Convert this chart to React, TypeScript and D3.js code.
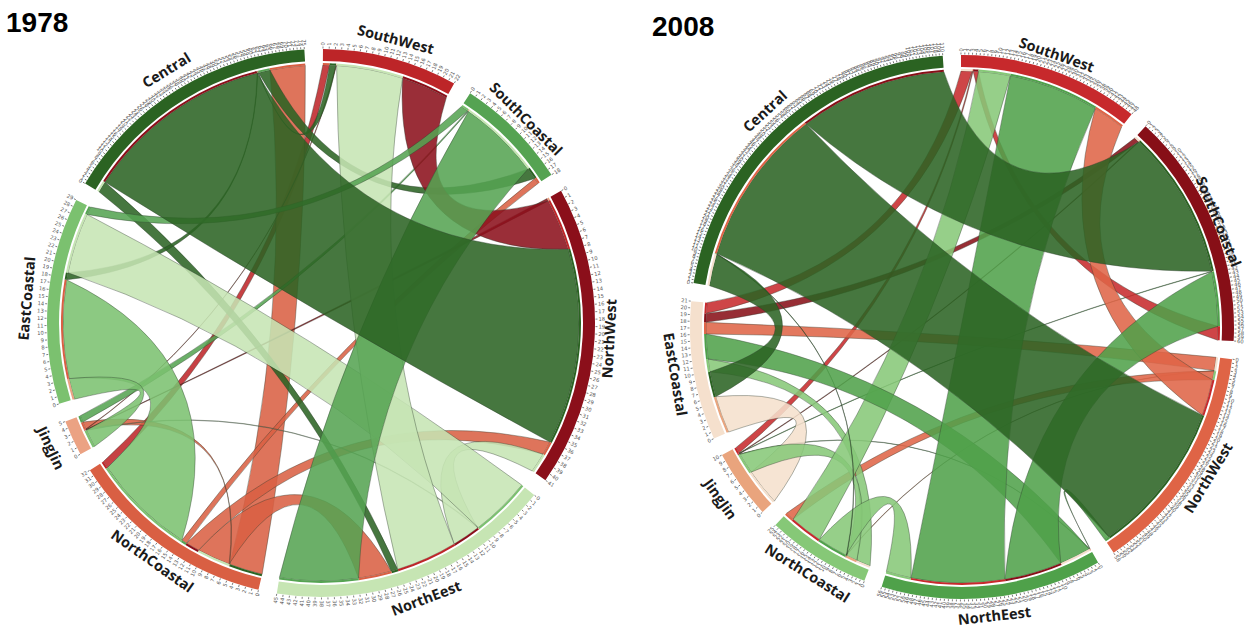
import React from "react";
import * as d3 from "d3";

type Segment = [string, number];
type Ribbon = [string, string, string];

const sectorOrder = ["Central", "SouthWest", "SouthCoastal", "NorthWest", "NorthEast", "NorthCoastal", "JingJin", "EastCoastal"];
const sectorLabels = ["Central", "SouthWest", "SouthCoastal", "NorthWest", "NorthEest", "NorthCoastal", "JingJin", "EastCoastal"];

// ---- 1978: ordered flows around each region
const flows1978: Record<string, Segment[]> = {
  Central: [["NorthEast", 2.5], ["NorthWest", 42.4], ["EastCoastal", 0.15], ["SouthWest", 0.15], ["SouthCoastal", 2.6], ["NorthCoastal", 7.9]],
  SouthWest: [["NorthCoastal", 1.5], ["Central", 1.4], ["JingJin", 0.15], ["NorthEast", 14.9], ["NorthWest", 10.6]],
  SouthCoastal: [["EastCoastal", 1.7], ["JingJin", 0.2], ["NorthEast", 18.4], ["Central", 2.6], ["NorthCoastal", 1.3]],
  NorthWest: [["JingJin", 0.6], ["SouthWest", 11.6], ["Central", 43.9], ["NorthCoastal", 3.1], ["NorthEast", 4.4]],
  NorthEast: [["EastCoastal", 13.5], ["JingJin", 0.15], ["NorthWest", 6.3], ["SouthWest", 13.7], ["Central", 1.5], ["NorthCoastal", 7.4], ["SouthCoastal", 17.6]],
  NorthCoastal: [["Central", 7.5], ["JingJin", 0.15], ["NorthEast", 7.4], ["NorthWest", 3.1], ["SouthCoastal", 1.2], ["EastCoastal", 23.2], ["SouthWest", 1.6]],
  JingJin: [["EastCoastal", 4.0], ["NorthEast", 0.1], ["NorthWest", 0.1], ["SouthWest", 0.1], ["NorthCoastal", 1.7], ["SouthCoastal", 1.5]],
  EastCoastal: [["JingJin", 4.7], ["NorthCoastal", 22], ["Central", 1.6], ["NorthEast", 13.6], ["SouthCoastal", 1.8]],
};
const ribbons1978: Ribbon[] = [
  ["SouthWest", "NorthCoastal", "SouthWest"],
  ["NorthCoastal", "Central", "NorthCoastal"],
  ["NorthCoastal", "NorthWest", "NorthCoastal"],
  ["NorthCoastal", "NorthEast", "NorthCoastal"],
  ["NorthCoastal", "SouthCoastal", "NorthCoastal"],
  ["JingJin", "NorthCoastal", "NorthCoastal"],
  ["JingJin", "NorthEast", "NorthEast"],
  ["JingJin", "NorthWest", "NorthWest"],
  ["JingJin", "SouthWest", "SouthWest"],
  ["JingJin", "SouthCoastal", "SouthCoastal"],
  ["Central", "NorthEast", "Central"],
  ["SouthWest", "Central", "Central"],
  ["EastCoastal", "Central", "Central"],
  ["SouthCoastal", "Central", "Central"],
  ["SouthWest", "NorthWest", "NorthWest"],
  ["NorthWest", "NorthEast", "NorthEast"],
  ["NorthEast", "EastCoastal", "NorthEast"],
  ["SouthWest", "NorthEast", "NorthEast"],
  ["EastCoastal", "NorthCoastal", "EastCoastal"],
  ["EastCoastal", "JingJin", "EastCoastal"],
  ["SouthCoastal", "EastCoastal", "SouthCoastal"],
  ["SouthCoastal", "NorthEast", "SouthCoastal"],
  ["Central", "NorthWest", "Central"],
];
const colors1978 = ["#2b6322", "#bd2528", "#55a352", "#8b0f1a", "#c6e5b3", "#d95f43", "#eba283", "#7bc16f"];
const ticks1978 = [75, 22, 18, 41, 45, 32, 5, 29];
const labelGap1978 = [21, 18, 14, 16, 22, 19, 25, 20];

// ---- 2008
const flows2008: Record<string, Segment[]> = {
  Central: [["EastCoastal", 7.2], ["NorthCoastal", 0.15], ["NorthWest", 35.7], ["SouthCoastal", 33.4]],
  SouthWest: [["EastCoastal", 2.5], ["JingJin", 0.2], ["SouthCoastal", 1.2], ["NorthCoastal", 7.2], ["NorthEast", 20.4], ["NorthWest", 7.2]],
  SouthCoastal: [["EastCoastal", 1.1], ["JingJin", 0.2], ["Central", 33.6], ["JingJin", 0.1], ["NorthEast", 12.3], ["SouthWest", 3.1]],
  NorthWest: [["EastCoastal", 3.0], ["NorthCoastal", 0.1], ["NorthCoastal", 2.0], ["SouthWest", 8.2], ["Central", 34.8], ["NorthEast", 1.1]],
  NorthEast: [["NorthWest", 0.1], ["JingJin", 0.1], ["EastCoastal", 7.1], ["SouthCoastal", 13], ["SouthWest", 21.1], ["NorthCoastal", 5.7]],
  NorthCoastal: [["EastCoastal", 3.2], ["JingJin", 2.5], ["Central", 0.1], ["NorthWest", 0.1], ["NorthEast", 6.9], ["SouthWest", 7.4], ["NorthWest", 2.0]],
  JingJin: [["EastCoastal", 8.3], ["NorthCoastal", 4.7], ["NorthEast", 0.1], ["SouthCoastal", 0.15], ["SouthCoastal", 0.1], ["SouthWest", 1.4]],
  EastCoastal: [["JingJin", 8.4], ["Central", 5.7], ["NorthCoastal", 2.9], ["NorthEast", 5.6], ["NorthWest", 2.6], ["SouthCoastal", 2.0], ["SouthWest", 2.4]],
};
const ribbons2008: Ribbon[] = [
  ["JingJin", "SouthWest", "SouthWest"],
  ["JingJin", "SouthCoastal", "SouthCoastal"],
  ["JingJin", "SouthCoastal", "NorthEast"],
  ["JingJin", "NorthEast", "NorthEast"],
  ["NorthCoastal", "NorthWest", "NorthWest"],
  ["EastCoastal", "SouthWest", "SouthWest"],
  ["EastCoastal", "SouthCoastal", "SouthCoastal"],
  ["EastCoastal", "NorthWest", "NorthWest"],
  ["NorthCoastal", "NorthWest", "NorthWest"],
  ["SouthWest", "SouthCoastal", "SouthWest"],
  ["SouthWest", "NorthWest", "NorthWest"],
  ["EastCoastal", "JingJin", "EastCoastal"],
  ["EastCoastal", "NorthCoastal", "NorthCoastal"],
  ["JingJin", "NorthCoastal", "NorthCoastal"],
  ["NorthCoastal", "NorthEast", "NorthCoastal"],
  ["NorthCoastal", "SouthWest", "NorthCoastal"],
  ["NorthCoastal", "Central", "Central"],
  ["NorthWest", "NorthEast", "NorthEast"],
  ["EastCoastal", "NorthEast", "NorthEast"],
  ["SouthWest", "NorthEast", "NorthEast"],
  ["SouthCoastal", "NorthEast", "NorthEast"],
  ["EastCoastal", "Central", "Central"],
  ["Central", "SouthCoastal", "Central"],
  ["Central", "NorthWest", "Central"],
];
const colors2008 = ["#2b6322", "#c7292c", "#870f17", "#df6446", "#4fa14a", "#86c877", "#e9a47d", "#f5e0cd"];
const ticks2008 = [110, 48, 60, 58, 56, 25, 10, 21];
const labelGap2008 = [19, 15, 4, 18, 20, 20, 26, 20];

const TAU = Math.PI * 2;
const rad = (deg: number) => (deg * Math.PI) / 180;

const controlFraction = d3.scaleLinear().domain([0, 87, 180]).range([0.52, 0.31, 0]);

function edge(p: d3.Path, from: number, to: number, r: number) {
  let diff = ((to - from) % TAU + TAU) % TAU;
  if (diff > Math.PI) diff -= TAU;
  const mid = from + diff / 2 - Math.PI / 2;
  const c = controlFraction((Math.abs(diff) * 180) / Math.PI) * r;
  const t = to - Math.PI / 2;
  p.quadraticCurveTo(c * Math.cos(mid), c * Math.sin(mid), r * Math.cos(t), r * Math.sin(t));
}

function ribbonPath(a0: number, a1: number, b0: number, b1: number, r: number) {
  const p = d3.path();
  p.arc(0, 0, r, a0 - Math.PI / 2, a1 - Math.PI / 2);
  edge(p, a1, b0, r);
  p.arc(0, 0, r, b0 - Math.PI / 2, b1 - Math.PI / 2);
  edge(p, b1, a0, r);
  p.closePath();
  return p.toString();
}

interface ChordProps {
  cx: number; cy: number; R: number; rotation: number; pad: number;
  flows: Record<string, Segment[]>; ribbons: Ribbon[]; colors: string[]; ticks: number[]; labelGap: number[];
}

function Chord({ cx, cy, R, rotation, pad, flows, ribbons, colors, ticks, labelGap }: ChordProps) {
  const color = d3.scaleOrdinal<string, string>().domain(sectorOrder).range(colors);
  const totals = sectorOrder.map((s) => d3.sum(flows[s], (d) => d[1]));
  const unit = (360 - pad * sectorOrder.length) / d3.sum(totals);
  let cursor = rotation;
  const sectors = sectorOrder.map((name, i) => {
    const start = cursor;
    const end = start + totals[i] * unit;
    cursor = end + pad;
    const angle = d3.scaleLinear().domain([0, totals[i]]).range([rad(start), rad(end)]);
    let acc = 0;
    const segs = flows[name].map(([to, v]) => {
      const s = { to, a0: angle(acc), a1: angle(acc + v), used: false };
      acc += v;
      return s;
    });
    return { name, label: sectorLabels[i], start, end, segs, tickCount: ticks[i], gap: labelGap[i] };
  });
  const byName = new Map(sectors.map((s) => [s.name, s]));
  const take = (a: string, b: string) => {
    const seg = byName.get(a)!.segs.find((s) => s.to === b && !s.used)!;
    seg.used = true;
    return seg;
  };
  const rIn = R - 16;
  const ringArc = d3.arc<any>().innerRadius(R - 12).outerRadius(R);
  const stripArc = d3.arc<any>().innerRadius(rIn).outerRadius(R - 14);

  return (
    <g transform={`translate(${cx},${cy})`}>
      {ribbons.map(([a, b, c], i) => {
        const s = take(a, b);
        const t = take(b, a);
        return (
          <path key={i} d={ribbonPath(s.a0, s.a1, t.a0, t.a1, rIn)} fill={color(c)} fillOpacity={0.87}
            stroke="#2c3a2c" strokeOpacity={0.55} strokeWidth={0.7} />
        );
      })}
      {sectors.map((s) => (
        <g key={s.name}>
          <path d={ringArc({ startAngle: rad(s.start), endAngle: rad(s.end) })!} fill={color(s.name)} />
          {s.segs.map((g, j) => (
            <path key={j} d={stripArc({ startAngle: g.a0, endAngle: g.a1 })!} fill={color(g.to)} />
          ))}
          {d3.range(s.tickCount + 1).map((k) => {
            const deg = s.start + ((s.end - s.start) * k) / s.tickCount;
            const flip = ((deg % 360) + 360) % 360 > 180;
            return (
              <g key={k} transform={`rotate(${deg - 90}) translate(${R + 0.5},0)`}>
                <line x1={0} x2={2} stroke="#333" strokeWidth={0.6} />
                <text x={flip ? -3 : 3} y={1.8} fontSize={5.2} fill="#555" fontFamily="'DejaVu Sans'"
                  textAnchor={flip ? "end" : "start"} transform={flip ? "rotate(180)" : undefined}>{k}</text>
              </g>
            );
          })}
          {(() => {
            const mid = (s.start + s.end) / 2;
            const norm = ((mid % 360) + 360) % 360;
            const rr = R + s.gap;
            const x = rr * Math.sin(rad(norm));
            const y = -rr * Math.cos(rad(norm));
            const rot = norm > 90 && norm < 270 ? norm - 180 : norm;
            return (
              <text transform={`translate(${x},${y}) rotate(${rot})`} textAnchor="middle" dominantBaseline="middle"
                fontFamily="'Open Sans'" fontWeight={700} fontSize={14.5} fill="#1a1a1a">{s.label}</text>
            );
          })()}
        </g>
      ))}
    </g>
  );
}

export default function App() {
  return (
    <svg width={1248} height={626} style={{ position: "absolute", left: 0, top: 0, background: "#fff" }}>
      <text x={6} y={32} fontFamily="'Liberation Sans'" fontWeight={700} fontSize={28} fill="#000">1978</text>
      <text x={652} y={36} fontFamily="'Liberation Sans'" fontWeight={700} fontSize={28} fill="#000">2008</text>
      <Chord cx={321} cy={323} R={274} rotation={300.6} pad={3.9} flows={flows1978} ribbons={ribbons1978} colors={colors1978} ticks={ticks1978} labelGap={labelGap1978} />
      <Chord cx={962} cy={327} R={272} rotation={279.3} pad={3.85} flows={flows2008} ribbons={ribbons2008} colors={colors2008} ticks={ticks2008} labelGap={labelGap2008} />
    </svg>
  );
}
